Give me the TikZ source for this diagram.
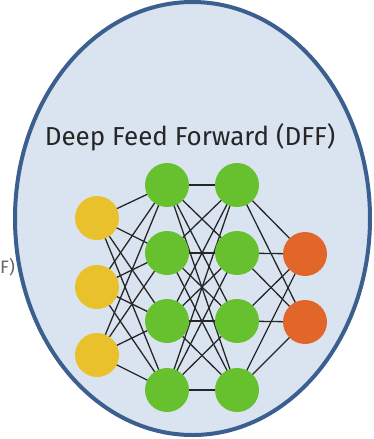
\documentclass[tikz,border=0pt]{standalone}
\usepackage{fontspec}
\setmainfont{Fira Sans}
\definecolor{bgblue}{HTML}{DAE4F0}
\definecolor{rim}{HTML}{3B5F8E}
\definecolor{inyel}{HTML}{E8C12C}
\definecolor{hidgreen}{HTML}{67C12F}
\definecolor{outorange}{HTML}{E2652A}
\definecolor{txtgray}{HTML}{262626}
\begin{document}
\begin{tikzpicture}[x=1pt,y=-1pt,
  neuron/.style={circle,minimum size=44pt,inner sep=0pt},
  inneuron/.style={neuron,fill=inyel},
  hidneuron/.style={neuron,fill=hidgreen},
  outneuron/.style={neuron,fill=outorange},
  link/.style={draw=black!85,line width=1.3pt}]
\useasboundingbox (0,0) rectangle (374,439);
\fill[white] (0,0) rectangle (374,439);
\node[text=gray!80!black,font=\fontsize{18}{22}\selectfont,anchor=west,inner sep=0pt] (cut) at (0,267) {F)};
\draw[fill=bgblue,draw=rim,line width=4pt] (192.5,218.5) ellipse [x radius=177.5, y radius=216.5];
\node[text=txtgray,font=\fontsize{26}{30}\selectfont,inner sep=0pt] (title) at (190,137) {Deep Feed Forward (DFF)};
% nodes
\foreach \i/\y in {1/218,2/287,3/355} \coordinate (pi\i) at (97,\y);
\foreach \i/\y in {1/185,2/253,3/321,4/390} {\coordinate (pa\i) at (167,\y); \coordinate (pb\i) at (237,\y);}
\foreach \i/\y in {1/254,2/322} \coordinate (po\i) at (305,\y);
\foreach \i in {1,2,3} \foreach \j in {1,2,3,4} \draw[link] (pi\i) -- (pa\j);
\foreach \i in {1,2,3,4} \foreach \j in {1,2,3,4} \draw[link] (pa\i) -- (pb\j);
\foreach \i in {1,2,3,4} \foreach \j in {1,2} \draw[link] (pb\i) -- (po\j);
\foreach \i in {1,2,3} \node[inneuron] (i\i) at (pi\i) {};
\foreach \i in {1,2,3,4} {\node[hidneuron] (a\i) at (pa\i) {}; \node[hidneuron] (b\i) at (pb\i) {};}
\foreach \i in {1,2} \node[outneuron] (o\i) at (po\i) {};
\end{tikzpicture}
\end{document}
